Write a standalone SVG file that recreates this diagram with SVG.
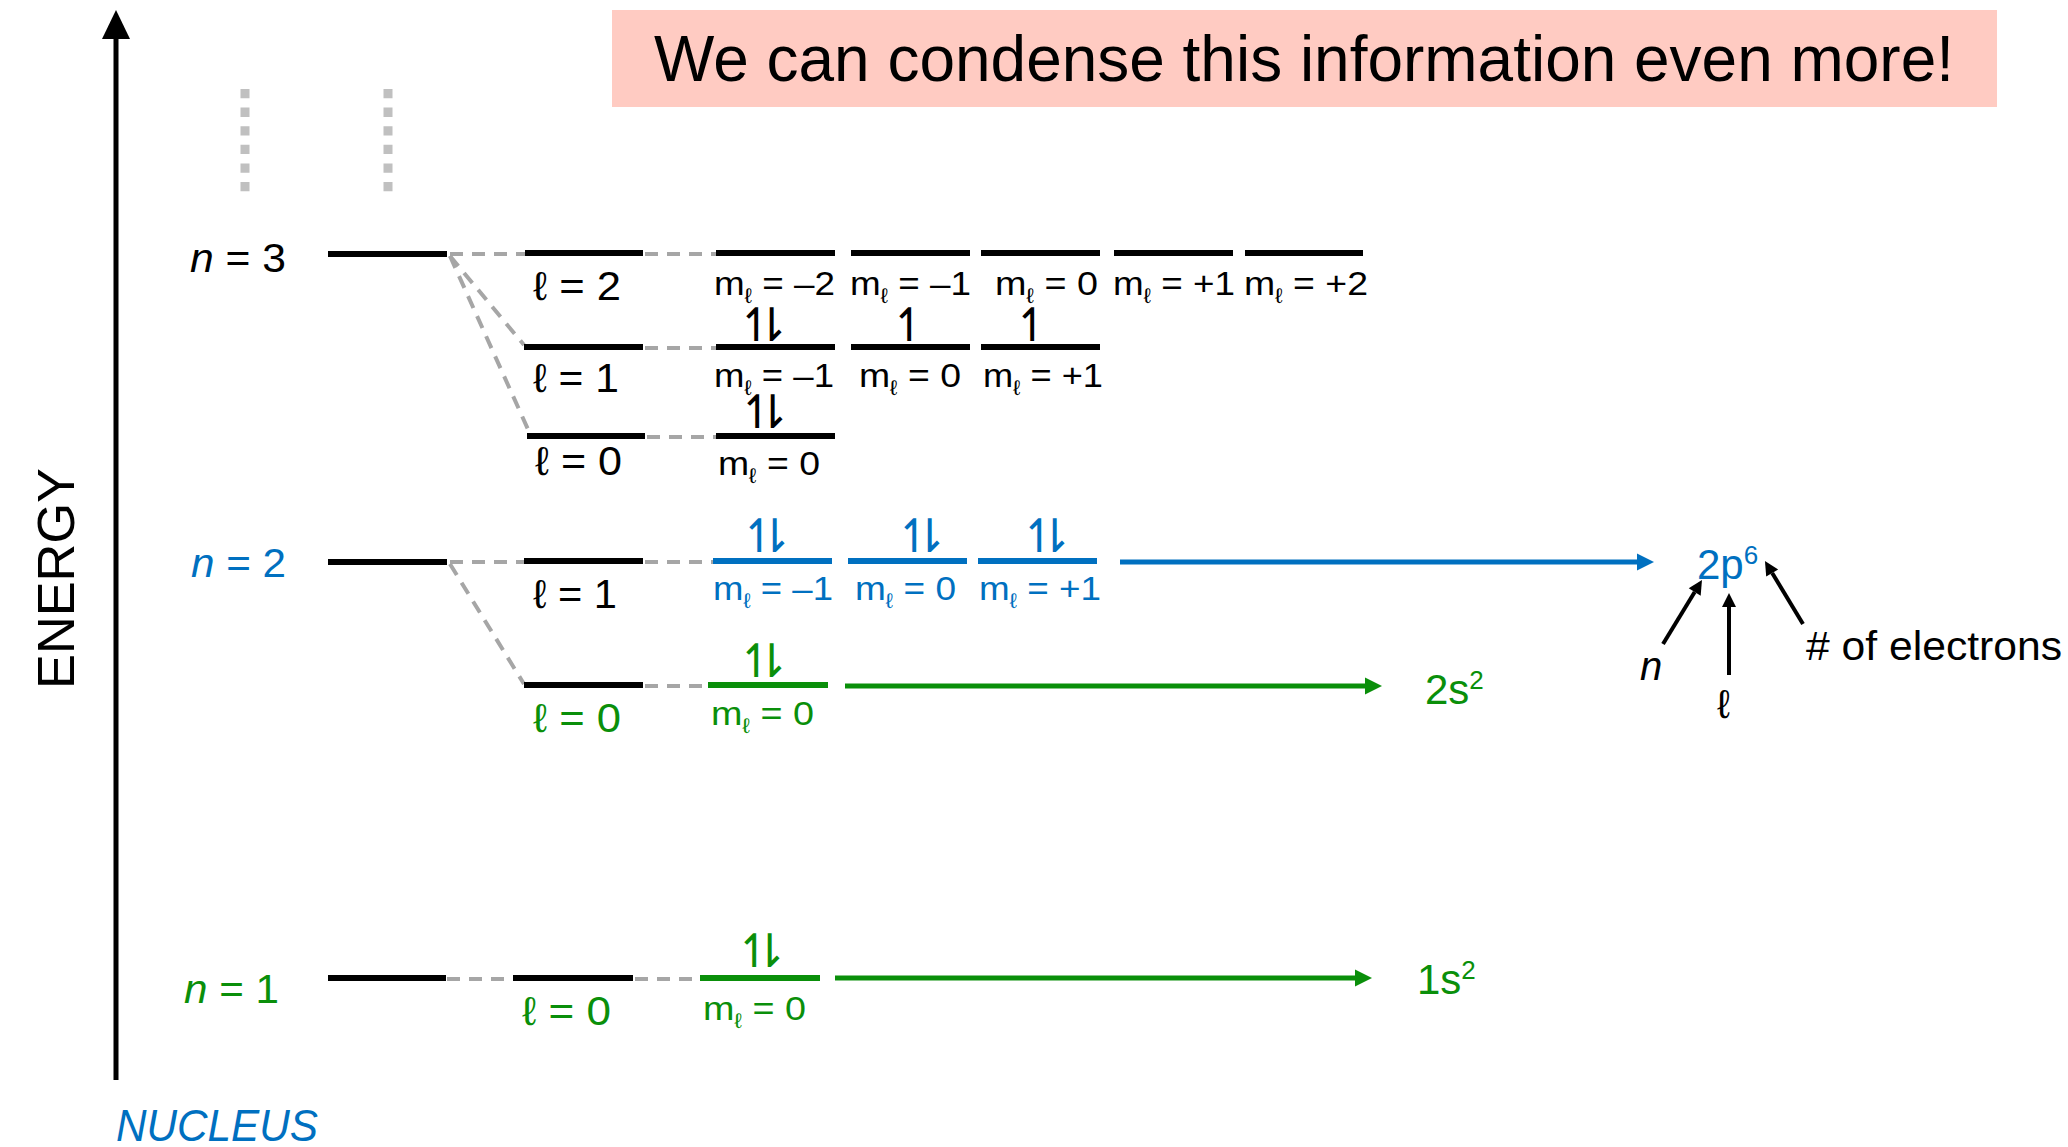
<svg xmlns="http://www.w3.org/2000/svg" width="2068" height="1147" viewBox="0 0 2068 1147">
<style>
.t{font-family:"Liberation Sans",Arial,sans-serif}
.e{font-family:"DejaVu Sans",sans-serif;font-size:46px;letter-spacing:-23px}
.k{fill:#000}.b{fill:#0070c0}.g{fill:#0a8f0a}
.lk{stroke:#000;stroke-width:6}
.lb{stroke:#0070c0;stroke-width:6}
.lg{stroke:#0a8f0a;stroke-width:6}
.dash{stroke:#a6a6a6;stroke-width:4;stroke-dasharray:13 9;fill:none}
.lab{font-size:40px}
.ml{font-size:34px}
</style>
<defs>
<marker id="hb" markerUnits="userSpaceOnUse" markerWidth="18" markerHeight="18" refX="0" refY="9" orient="auto" overflow="visible"><path d="M0,0.5 L17,9 L0,17.5 z" fill="#0070c0"/></marker>
<marker id="hg" markerUnits="userSpaceOnUse" markerWidth="18" markerHeight="18" refX="0" refY="9" orient="auto" overflow="visible"><path d="M0,0.5 L17,9 L0,17.5 z" fill="#0a8f0a"/></marker>
<marker id="hk" markerUnits="userSpaceOnUse" markerWidth="15" markerHeight="14" refX="0" refY="7" orient="auto" overflow="visible"><path d="M0,0 L14,7 L0,14 z" fill="#000"/></marker>
</defs>
<rect width="2068" height="1147" fill="#fff"/>

<g id="axis">
<line x1="116" y1="1080" x2="116" y2="38" stroke="#000" stroke-width="5"/>
<polygon points="116,10 102,39 130,39" fill="#000"/>
<text class="t k" transform="translate(74,578.5) rotate(-90)" text-anchor="middle" font-size="52" textLength="221" lengthAdjust="spacingAndGlyphs">ENERGY</text>
<text class="t b" x="116" y="1141" font-size="44" font-style="italic" textLength="202" lengthAdjust="spacingAndGlyphs">NUCLEUS</text>
</g>

<g id="title">
<rect x="612" y="10" width="1385" height="97" fill="#ffcbc2"/>
<text class="t k" x="654" y="81" font-size="64" textLength="1300" lengthAdjust="spacingAndGlyphs">We can condense this information even more!</text>
</g>

<g id="higher-levels">
<line x1="245" y1="89" x2="245" y2="192" stroke="#c0c0c0" stroke-width="9" stroke-dasharray="9.3 9.3"/>
<line x1="388" y1="89" x2="388" y2="192" stroke="#c0c0c0" stroke-width="9" stroke-dasharray="9.3 9.3"/>
</g>

<g id="connectors">
<line class="dash" x1="450" y1="254" x2="525" y2="254"/>
<line class="dash" x1="450" y1="256" x2="524" y2="345"/>
<line class="dash" x1="450" y1="256" x2="531" y2="436"/>
<line class="dash" x1="450" y1="562" x2="524" y2="562"/>
<line class="dash" x1="450" y1="564" x2="524" y2="684"/>
<line class="dash" x1="447" y1="979" x2="513" y2="979"/>
<line class="dash" x1="645" y1="254" x2="716" y2="254"/>
<line class="dash" x1="645" y1="348" x2="716" y2="348"/>
<line class="dash" x1="647" y1="437" x2="716" y2="437"/>
<line class="dash" x1="645" y1="562" x2="713" y2="562"/>
<line class="dash" x1="645" y1="686" x2="708" y2="686"/>
<line class="dash" x1="635" y1="979" x2="700" y2="979"/>
<line x1="1120" y1="562" x2="1637" y2="562" stroke="#0070c0" stroke-width="5" marker-end="url(#hb)"/>
<line x1="845" y1="686" x2="1365" y2="686" stroke="#0a8f0a" stroke-width="5" marker-end="url(#hg)"/>
<line x1="835" y1="978" x2="1355" y2="978" stroke="#0a8f0a" stroke-width="5" marker-end="url(#hg)"/>
<line x1="1663" y1="644" x2="1694.7" y2="592" stroke="#000" stroke-width="4" marker-end="url(#hk)"/>
<line x1="1729" y1="675" x2="1729" y2="607" stroke="#000" stroke-width="4" marker-end="url(#hk)"/>
<line x1="1803" y1="624" x2="1772.2" y2="573" stroke="#000" stroke-width="4" marker-end="url(#hk)"/>
</g>

<g id="n3">
<line class="lk" x1="328" y1="254" x2="447" y2="254"/>
<text class="t k lab" x="190" y="272" textLength="96" lengthAdjust="spacingAndGlyphs"><tspan font-style="italic">n</tspan> = 3</text>
</g>
<g id="n2">
<line class="lk" x1="328" y1="562" x2="447" y2="562"/>
<text class="t b lab" x="191" y="577" textLength="95" lengthAdjust="spacingAndGlyphs"><tspan font-style="italic">n</tspan> = 2</text>
</g>
<g id="n1">
<line class="lk" x1="328" y1="978" x2="446" y2="978"/>
<text class="t g lab" x="184" y="1003" textLength="95" lengthAdjust="spacingAndGlyphs"><tspan font-style="italic">n</tspan> = 1</text>
</g>

<g id="n3-l2">
<line class="lk" x1="525" y1="253" x2="643" y2="253"/>
<text class="t k lab" x="533" y="300" textLength="88" lengthAdjust="spacingAndGlyphs">ℓ = 2</text>
</g>
<g id="n3-l1">
<line class="lk" x1="524" y1="347" x2="643" y2="347"/>
<text class="t k lab" x="533" y="392" textLength="86" lengthAdjust="spacingAndGlyphs">ℓ = 1</text>
</g>
<g id="n3-l0">
<line class="lk" x1="527" y1="436" x2="645" y2="436"/>
<text class="t k lab" x="535" y="475" textLength="87" lengthAdjust="spacingAndGlyphs">ℓ = 0</text>
</g>
<g id="n2-l1">
<line class="lk" x1="524" y1="561" x2="643" y2="561"/>
<text class="t k lab" x="533" y="608" textLength="84" lengthAdjust="spacingAndGlyphs">ℓ = 1</text>
</g>
<g id="n2-l0">
<line class="lk" x1="524" y1="685" x2="643" y2="685"/>
<text class="t g lab" x="533" y="732" textLength="88" lengthAdjust="spacingAndGlyphs">ℓ = 0</text>
</g>
<g id="n1-l0">
<line class="lk" x1="513" y1="978" x2="633" y2="978"/>
<text class="t g lab" x="522" y="1025" textLength="89" lengthAdjust="spacingAndGlyphs">ℓ = 0</text>
</g>

<g id="n3-l2-m">
<line class="lk" x1="716" y1="253" x2="835" y2="253"/>
<line class="lk" x1="851" y1="253" x2="970" y2="253"/>
<line class="lk" x1="981" y1="253" x2="1100" y2="253"/>
<line class="lk" x1="1114" y1="253" x2="1233" y2="253"/>
<line class="lk" x1="1245" y1="253" x2="1363" y2="253"/>
<text class="t k ml" x="714" y="295" textLength="121" lengthAdjust="spacingAndGlyphs">m<tspan font-size="21" dy="8">ℓ</tspan><tspan dy="-8"> = –2</tspan></text>
<text class="t k ml" x="850" y="295" textLength="121" lengthAdjust="spacingAndGlyphs">m<tspan font-size="21" dy="8">ℓ</tspan><tspan dy="-8"> = –1</tspan></text>
<text class="t k ml" x="995" y="295" textLength="103" lengthAdjust="spacingAndGlyphs">m<tspan font-size="21" dy="8">ℓ</tspan><tspan dy="-8"> = 0</tspan></text>
<text class="t k ml" x="1113" y="295" textLength="122" lengthAdjust="spacingAndGlyphs">m<tspan font-size="21" dy="8">ℓ</tspan><tspan dy="-8"> = +1</tspan></text>
<text class="t k ml" x="1244" y="295" textLength="124" lengthAdjust="spacingAndGlyphs">m<tspan font-size="21" dy="8">ℓ</tspan><tspan dy="-8"> = +2</tspan></text>
</g>

<g id="n3-l1-m">
<line class="lk" x1="716" y1="347" x2="835" y2="347"/>
<line class="lk" x1="851" y1="347" x2="970" y2="347"/>
<line class="lk" x1="981" y1="347" x2="1100" y2="347"/>
<text class="e k" x="737" y="341">↿⇂</text>
<text class="e k" x="890" y="341">↿</text>
<text class="e k" x="1013" y="341">↿</text>
<text class="t k ml" x="714" y="387" textLength="120" lengthAdjust="spacingAndGlyphs">m<tspan font-size="21" dy="8">ℓ</tspan><tspan dy="-8"> = –1</tspan></text>
<text class="t k ml" x="859" y="387" textLength="102" lengthAdjust="spacingAndGlyphs">m<tspan font-size="21" dy="8">ℓ</tspan><tspan dy="-8"> = 0</tspan></text>
<text class="t k ml" x="983" y="387" textLength="120" lengthAdjust="spacingAndGlyphs">m<tspan font-size="21" dy="8">ℓ</tspan><tspan dy="-8"> = +1</tspan></text>
</g>

<g id="n3-l0-m">
<line class="lk" x1="716" y1="436" x2="835" y2="436"/>
<text class="e k" x="738" y="428">↿⇂</text>
<text class="t k ml" x="718" y="475" textLength="102" lengthAdjust="spacingAndGlyphs">m<tspan font-size="21" dy="8">ℓ</tspan><tspan dy="-8"> = 0</tspan></text>
</g>

<g id="n2-l1-m">
<line class="lb" x1="713" y1="561" x2="832" y2="561"/>
<line class="lb" x1="848" y1="561" x2="967" y2="561"/>
<line class="lb" x1="978" y1="561" x2="1097" y2="561"/>
<text class="e b" x="740" y="552">↿⇂</text>
<text class="e b" x="895" y="552">↿⇂</text>
<text class="e b" x="1020" y="552">↿⇂</text>
<text class="t b ml" x="713" y="600" textLength="120" lengthAdjust="spacingAndGlyphs">m<tspan font-size="21" dy="8">ℓ</tspan><tspan dy="-8"> = –1</tspan></text>
<text class="t b ml" x="855" y="600" textLength="101" lengthAdjust="spacingAndGlyphs">m<tspan font-size="21" dy="8">ℓ</tspan><tspan dy="-8"> = 0</tspan></text>
<text class="t b ml" x="979" y="600" textLength="122" lengthAdjust="spacingAndGlyphs">m<tspan font-size="21" dy="8">ℓ</tspan><tspan dy="-8"> = +1</tspan></text>
</g>

<g id="n2-l0-m">
<line class="lg" x1="708" y1="685" x2="828" y2="685"/>
<text class="e g" x="737" y="677">↿⇂</text>
<text class="t g ml" x="711" y="725" textLength="103" lengthAdjust="spacingAndGlyphs">m<tspan font-size="21" dy="8">ℓ</tspan><tspan dy="-8"> = 0</tspan></text>
</g>

<g id="n1-l0-m">
<line class="lg" x1="700" y1="978" x2="820" y2="978"/>
<text class="e g" x="735" y="967">↿⇂</text>
<text class="t g ml" x="703" y="1020" textLength="103" lengthAdjust="spacingAndGlyphs">m<tspan font-size="21" dy="8">ℓ</tspan><tspan dy="-8"> = 0</tspan></text>
</g>

<g id="cfg-2p6">
<text class="t b" x="1697" y="579" font-size="42">2p<tspan font-size="26" dy="-15">6</tspan></text>
</g>
<g id="cfg-2s2">
<text class="t g" x="1425" y="704" font-size="42">2s<tspan font-size="26" dy="-15">2</tspan></text>
</g>
<g id="cfg-1s2">
<text class="t g" x="1417" y="994" font-size="42">1s<tspan font-size="26" dy="-15">2</tspan></text>
</g>

<g id="annotations">
<text class="t k" x="1640" y="680" font-size="40" font-style="italic">n</text>
<text class="t k" x="1717" y="718" font-size="40">ℓ</text>
<text class="t k" x="1806" y="660" font-size="40" textLength="256" lengthAdjust="spacingAndGlyphs"># of electrons</text>
</g>
</svg>
